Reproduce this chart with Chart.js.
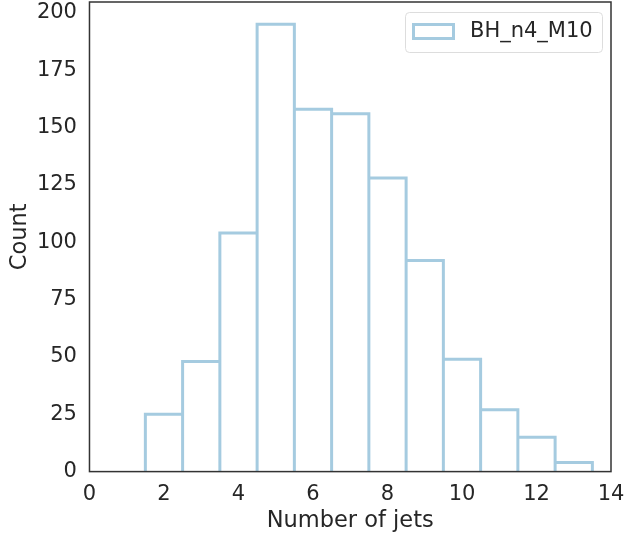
<!DOCTYPE html>
<html>
<head>
<meta charset="utf-8">
<script src="https://cdn.jsdelivr.net/npm/chart.js@4"></script>
<style>
    html, body { margin: 0; padding: 0; background: #fff; }
    #wrap { width: 625px; height: 533px; }
</style>
</head>
<body>
<div id="wrap"><canvas id="histChart"></canvas></div>
<script>
const seriesLabel = "BH_n4_M10";
const binCenters = [2, 3, 4, 5, 6, 7, 8, 9, 10, 11, 12, 13];
const counts = [25, 48, 104, 195, 158, 156, 128, 92, 49, 27, 15, 4];
const binWidth = 1;
const xTicks = [0, 2, 4, 6, 8, 10, 12, 14];
const yTicks = [0, 25, 50, 75, 100, 125, 150, 175, 200];
const xLimits = [0, 14];
const yLimits = [0, 204.75];

const lineColor = "#a5cbe0";
const textColor = "#262626";
const tickFont = { family: "DejaVu Sans", size: 21 };
const titleFont = { family: "DejaVu Sans", size: 22.5 };

// outline of the histogram, each bin as its own closed step
const outline = [];
binCenters.forEach((c, i) => {
    const left = c - binWidth / 2;
    const right = c + binWidth / 2;
    outline.push({ x: left, y: 0 }, { x: left, y: counts[i] }, { x: right, y: counts[i] }, { x: right, y: 0 });
});

// keep the plot box where the labels would otherwise push it
function noOverhang(scale) {
    scale.paddingTop = 0;
    scale.paddingBottom = 0;
    scale.paddingLeft = 0;
    scale.paddingRight = 0;
}

const spines = {
    id: "spines",
    afterDatasetsDraw(chart) {
        const a = chart.chartArea;
        const ctx = chart.ctx;
        ctx.save();
        ctx.strokeStyle = "#333333";
        ctx.lineWidth = 1.5;
        ctx.strokeRect(a.left, a.top, a.right - a.left, a.bottom - a.top);
        ctx.restore();
    }
};

const boxLegend = {
    id: "boxLegend",
    afterDraw(chart) {
        const a = chart.chartArea;
        const ctx = chart.ctx;
        const ds = chart.data.datasets[0];
        const fx = a.right - 206, fy = a.top + 10, fw = 197, fh = 40;
        ctx.save();
        ctx.fillStyle = "rgba(255,255,255,0.8)";
        ctx.strokeStyle = "#dddddd";
        ctx.lineWidth = 1;
        ctx.beginPath();
        ctx.roundRect(fx + 0.5, fy + 0.5, fw, fh, 4);
        ctx.fill();
        ctx.stroke();
        ctx.strokeStyle = ds.borderColor;
        ctx.lineWidth = ds.borderWidth;
        ctx.strokeRect(fx + 8.5, fy + 12.5, 40, 14);
        ctx.fillStyle = textColor;
        ctx.font = tickFont.size + "px " + tickFont.family;
        ctx.textAlign = "left";
        ctx.textBaseline = "middle";
        ctx.fillText(ds.label, fx + 65, fy + 20);
        ctx.restore();
    }
};

const ctx = document.getElementById("histChart").getContext("2d");
new Chart(ctx, {
    type: "line",
    data: {
        datasets: [{
            label: seriesLabel,
            data: outline,
            borderColor: lineColor,
            backgroundColor: "transparent",
            borderWidth: 3,
            pointRadius: 0,
            tension: 0,
            fill: false
        }]
    },
    options: {
        responsive: true,
        maintainAspectRatio: false,
        animation: false,
        devicePixelRatio: 1,
        layout: { autoPadding: false, padding: { left: 1, right: 14, top: 2, bottom: 0 } },
        plugins: {
            legend: { display: false },
            tooltip: { enabled: false }
        },
        scales: {
            x: {
                type: "linear",
                min: xLimits[0],
                max: xLimits[1],
                grid: { display: false, drawTicks: false },
                border: { display: false },
                afterBuildTicks: (s) => { s.ticks = xTicks.map((v) => ({ value: v })); },
                afterFit: noOverhang,
                ticks: { color: textColor, font: tickFont, padding: 10.4, maxRotation: 0 },
                title: { display: true, text: "Number of jets", color: textColor, font: titleFont, padding: { top: -10.1, bottom: -1.5 } }
            },
            y: {
                type: "linear",
                min: yLimits[0],
                max: yLimits[1],
                grid: { display: false, drawTicks: false },
                border: { display: false },
                afterBuildTicks: (s) => { s.ticks = yTicks.map((v) => ({ value: v })); },
                afterFit: noOverhang,
                ticks: { color: textColor, font: tickFont, padding: 12.5 },
                title: { display: true, text: "Count", color: textColor, font: titleFont, padding: { top: 5.5, bottom: -9.1 } }
            }
        }
    },
    plugins: [spines, boxLegend]
});
</script>
</body>
</html>
